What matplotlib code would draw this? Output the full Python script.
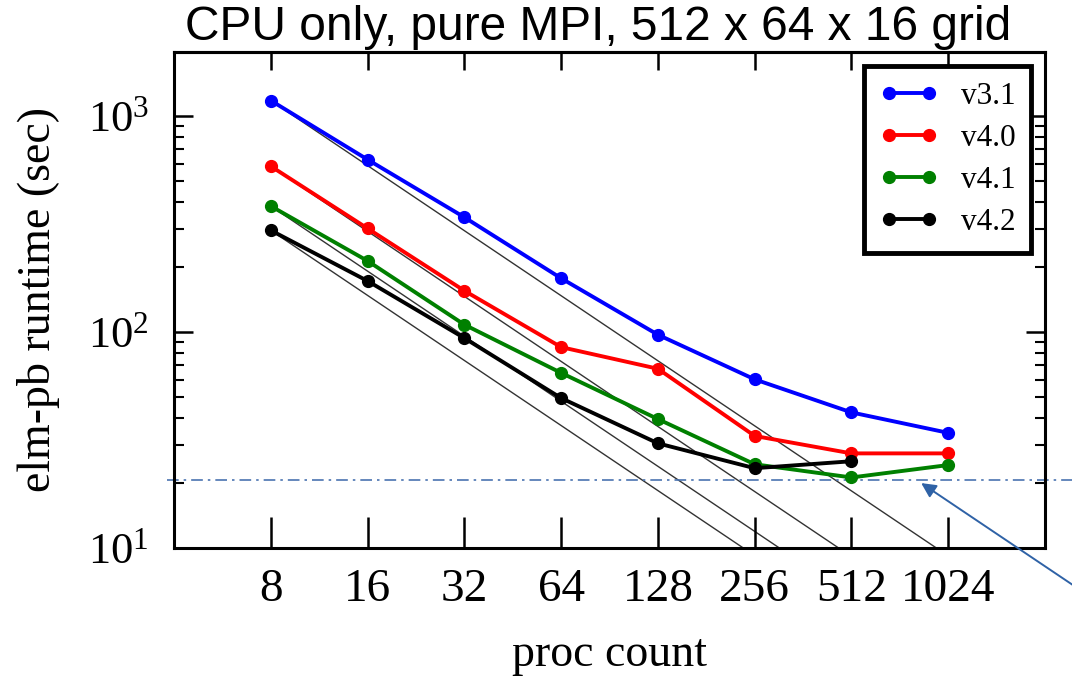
import matplotlib
matplotlib.use('Agg')
import matplotlib.pyplot as plt
from matplotlib.ticker import FixedLocator, NullLocator, LogLocator, NullFormatter

# data
procs = [8, 16, 32, 64, 128, 256, 512, 1024]
v31 = [1176, 627, 339, 177, 97, 60.3, 42.4, 34.1]
v40 = [584, 301, 155, 85, 67.5, 33.0, 27.4, 27.4]
v41 = [382, 213, 108, 64.6, 39.5, 24.4, 21.2, 24.2]
v42 = [295, 172, 93.6, 49.4, 30.5, 23.4, 25.2]
labels = ['v3.1', 'v4.0', 'v4.1', 'v4.2']
colors = ['blue', 'red', 'green', 'black']
target = 20.6

plt.rcParams['font.family'] = ['Liberation Serif', 'DejaVu Serif']
plt.rcParams['mathtext.default'] = 'regular'

fig = plt.figure(figsize=(10.72, 6.79), dpi=100)
ax = fig.add_axes([174/1072, 1-548/679, 871/1072, 496/679])

series = [v31, v40, v41, v42]
for vals, lab, col in zip(series, labels, colors):
	x = procs[:len(vals)]
	# ideal scaling line from first point
	ideal = [vals[0] * procs[0] / p for p in procs + [2048]]
	ax.plot(procs + [2048], ideal, color='#333333', lw=1.0, zorder=1)
	ax.plot(x, vals, color=col, lw=2.8, marker='o', ms=8.5, label=lab, zorder=3)

ax.axhline(target, xmin=-0.008, xmax=1.04, clip_on=False, color='#4a73b0', lw=1.2, ls=(0, (7, 3, 1.5, 3)), zorder=2)
ax.annotate('', xy=(830, 20.3), xycoords='data', xytext=(1.045, -0.09), textcoords='axes fraction',
	arrowprops=dict(arrowstyle='-|>', color='#2f62a6', lw=1.4, mutation_scale=22), annotation_clip=False)

ax.set_xscale('log', base=2)
ax.set_yscale('log')
ax.set_xlim(4, 2048)
ax.set_ylim(10, 1972)

ax.xaxis.set_major_locator(FixedLocator(procs))
ax.set_xticklabels([str(p) for p in procs])
ax.xaxis.set_minor_locator(NullLocator())
ax.yaxis.set_major_locator(FixedLocator([10, 100, 1000]))
ax.set_yticklabels([r'$10^{1}$', r'$10^{2}$', r'$10^{3}$'])
ax.yaxis.set_minor_locator(LogLocator(base=10, subs=range(2, 10)))
ax.yaxis.set_minor_formatter(NullFormatter())

ax.tick_params(axis='x', which='major', direction='in', length=22, width=1.8, top=False, labelsize=34, pad=15)
ax.tick_params(axis='y', which='major', direction='in', length=14, width=1.8, right=True, labelsize=32, pad=18)
ax.tick_params(axis='y', which='minor', direction='in', length=7, width=1.5, right=True)

top = ax.secondary_xaxis('top')
top.set_xticks(procs)
top.set_xticklabels([])
top.tick_params(direction='in', length=13, width=1.8)
top.xaxis.set_minor_locator(NullLocator())
top.spines['top'].set_linewidth(2.2)

for s in ax.spines.values():
	s.set_linewidth(2.2)

ax.set_xlabel('proc count', fontsize=33, labelpad=16)
ax.set_ylabel('elm-pb runtime (sec)', fontsize=33, labelpad=20)

leg = ax.legend(loc='upper right', bbox_to_anchor=(1, 1), borderaxespad=0.45, numpoints=2, fontsize=22.5,
	fancybox=False, framealpha=1, edgecolor='black', handlelength=1.9, handletextpad=0.7,
	labelspacing=0.42, borderpad=0.5)
leg.get_frame().set_linewidth(3.5)

fig.text(598/1072, 0.992, 'CPU only, pure MPI, 512 x 64 x 16 grid', ha='center', va='top',
	fontsize=34.5, family=['Liberation Sans', 'DejaVu Sans'])

plt.savefig('out.png', dpi=100)
